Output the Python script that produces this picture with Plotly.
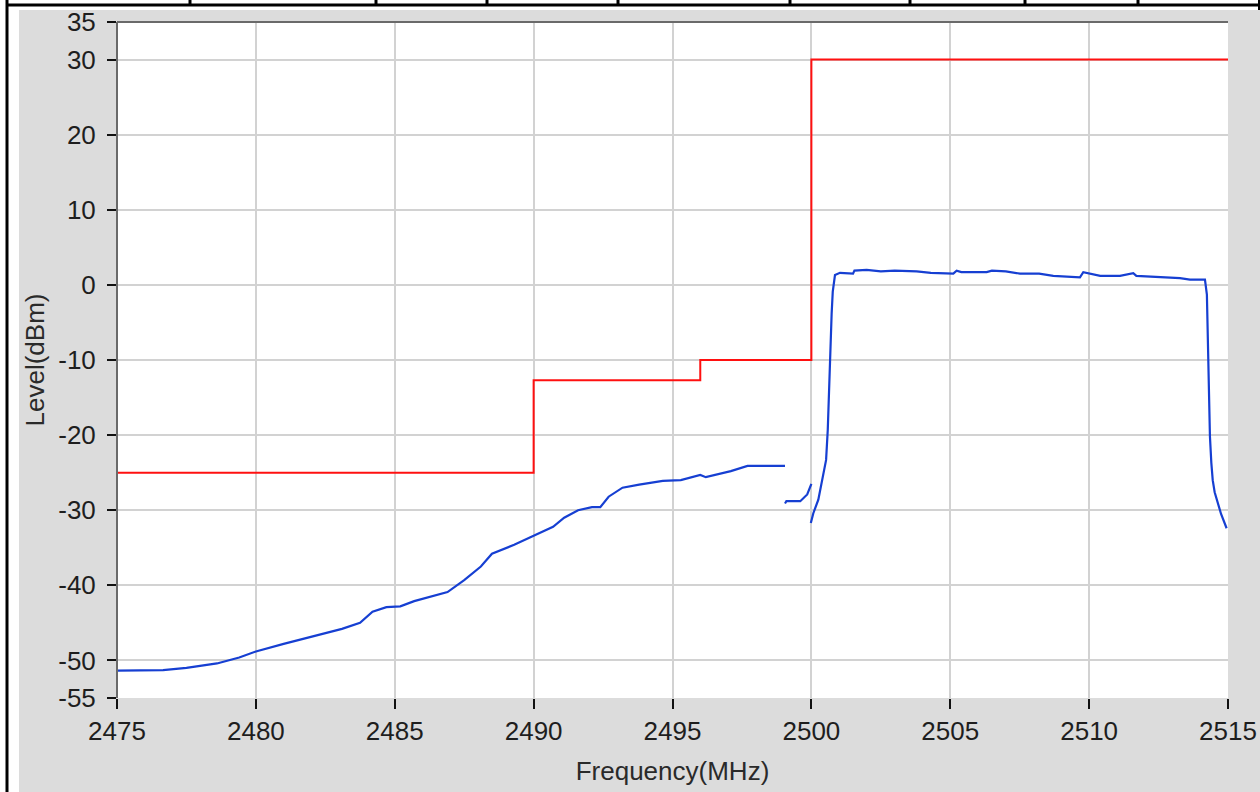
import plotly.graph_objects as go

# ---------------- data ----------------
mask_freq = [2475, 2490, 2490, 2496, 2496, 2500, 2500, 2515]
mask_level = [-25, -25, -12.7, -12.7, -10, -10, 30, 30]

# measured trace (None separates the three captured segments)
trace_freq = [
    2475.0, 2476.0, 2476.66, 2477.5, 2478.6, 2479.4, 2480.0, 2481.0, 2482.2, 2483.1,
    2483.75, 2484.2, 2484.7, 2485.2, 2485.7, 2486.3, 2486.9, 2487.5, 2488.1, 2488.5,
    2489.3, 2490.0, 2490.7, 2491.1, 2491.6, 2492.1, 2492.4, 2492.7, 2493.2, 2493.8,
    2494.65, 2495.3, 2496.0, 2496.2, 2497.1, 2497.7, 2499.05,
    None,
    2499.05, 2499.1, 2499.6, 2499.85, 2500.0,
    None,
    2499.98, 2500.07, 2500.25, 2500.37, 2500.43, 2500.53, 2500.59, 2500.65, 2500.67,
    2500.73, 2500.77, 2500.85, 2501.03, 2501.5, 2501.55, 2501.99, 2502.5, 2503.0,
    2503.79, 2504.3, 2505.11, 2505.23, 2505.4, 2506.31, 2506.5, 2506.79, 2507.0,
    2507.51, 2508.2, 2508.71, 2509.67, 2509.79, 2510.4, 2511.11, 2511.59, 2511.7,
    2512.31, 2513.27, 2513.63, 2514.11, 2514.17, 2514.24, 2514.28, 2514.35, 2514.4,
    2514.45, 2514.52, 2514.6, 2514.75, 2514.95,
]
trace_level = [
    -51.35, -51.3, -51.3, -51.0, -50.4, -49.6, -48.8, -47.8, -46.6, -45.8,
    -45.0, -43.5, -42.9, -42.8, -42.1, -41.5, -40.9, -39.3, -37.5, -35.8,
    -34.6, -33.4, -32.2, -31.0, -30.0, -29.6, -29.6, -28.2, -27.0, -26.6,
    -26.1, -26.0, -25.3, -25.6, -24.8, -24.1, -24.1,
    None,
    -29.1, -28.8, -28.8, -27.9, -26.5,
    None,
    -31.7, -30.4, -28.6, -26.4, -25.1, -23.3, -19.3, -13.1, -8.4,
    -3.8, -0.9, 1.3, 1.6, 1.5, 1.9, 2.0, 1.8, 1.9,
    1.8, 1.6, 1.5, 1.9, 1.7, 1.7, 1.9, 1.9, 1.8,
    1.5, 1.5, 1.2, 1.0, 1.7, 1.2, 1.2, 1.55, 1.2,
    1.1, 0.9, 0.7, 0.7, 0.7, -1.3, -9.3, -20.2, -23.7,
    -26.0, -27.6, -28.6, -30.5, -32.4,
]

x_ticks = [2475, 2480, 2485, 2490, 2495, 2500, 2505, 2510, 2515]
y_ticks = [35, 30, 20, 10, 0, -10, -20, -30, -40, -50, -55]

# ---------------- layout geometry (pixels) ----------------
W, H = 1260, 792
L, R, T, B = 117, 1228, 22, 698
PW, PH = R - L, B - T


def xp(px):
    return (px - L) / PW


def yp(py):
    return (B - py) / PH


fig = go.Figure()
fig.add_trace(go.Scatter(x=mask_freq, y=mask_level, mode="lines",
                         line=dict(color="#ff1010", width=2), hoverinfo="skip",
                         showlegend=False))
fig.add_trace(go.Scatter(x=trace_freq, y=trace_level, mode="lines",
                         line=dict(color="#163fd2", width=2.2), connectgaps=False,
                         showlegend=False))

shapes = []
# white surround outside the grey panel
shapes.append(dict(type="rect", xref="paper", yref="paper", x0=xp(-5), x1=xp(19),
                   y0=yp(800), y1=yp(-5), fillcolor="white", line=dict(width=0)))
shapes.append(dict(type="rect", xref="paper", yref="paper", x0=xp(-5), x1=xp(1265),
                   y0=yp(10), y1=yp(-5), fillcolor="white", line=dict(width=0)))
# black table borders
shapes.append(dict(type="line", xref="paper", yref="paper", x0=xp(7), x1=xp(7),
                   y0=yp(0), y1=yp(800), line=dict(color="black", width=3)))
shapes.append(dict(type="line", xref="paper", yref="paper", x0=xp(6), x1=xp(1262),
                   y0=yp(5), y1=yp(5), line=dict(color="black", width=3)))
for sx in [190, 376, 487, 618, 790, 910, 1025, 1138]:
    shapes.append(dict(type="line", xref="paper", yref="paper", x0=xp(sx), x1=xp(sx),
                       y0=yp(-2), y1=yp(5), line=dict(color="black", width=3)))
shapes.append(dict(type="line", xref="paper", yref="paper", x0=xp(1259), x1=xp(1259),
                   y0=yp(-2), y1=yp(10), line=dict(color="black", width=2)))
# plot frame (left & top darker edges)
shapes.append(dict(type="line", xref="paper", yref="paper", x0=0, x1=0, y0=0, y1=1,
                   line=dict(color="#6a6a6a", width=2)))
shapes.append(dict(type="line", xref="paper", yref="paper", x0=0, x1=1, y0=1, y1=1,
                   line=dict(color="#6a6a6a", width=2)))

tick_font = dict(family="Liberation Sans, Arial, sans-serif", size=26, color="#1e1e1e")
title_font = dict(family="Liberation Sans, Arial, sans-serif", size=26, color="#2a2a2a")

fig.update_layout(
    width=W, height=H,
    margin=dict(l=L, r=W - R, t=T, b=H - B, autoexpand=False),
    paper_bgcolor="#dcdcdc",
    plot_bgcolor="white",
    shapes=shapes,
    showlegend=False,
)
fig.update_xaxes(
    range=[2475, 2515], tickvals=x_ticks, ticktext=[str(v) for v in x_ticks],
    showgrid=True, gridcolor="#d2d2d2", gridwidth=2, zeroline=False,
    ticks="outside", ticklen=10, tickwidth=1.5, tickcolor="#111",
    tickfont=tick_font, showline=False, automargin=False,
    title=dict(text="Frequency(MHz)", font=title_font, standoff=16),
)
fig.update_yaxes(
    range=[-55, 35], tickvals=y_ticks, ticktext=[str(v) for v in y_ticks],
    showgrid=True, gridcolor="#d2d2d2", gridwidth=2, zeroline=False,
    ticks="outside", ticklen=9, tickwidth=1.5, tickcolor="#111",
    ticklabelstandoff=6,
    tickfont=tick_font, showline=False, automargin=False,
    title=dict(text="Level(dBm)", font=title_font, standoff=6),
)

fig.write_html("out.html", config={"displayModeBar": False},
               post_script="document.body.style.margin='0';")
